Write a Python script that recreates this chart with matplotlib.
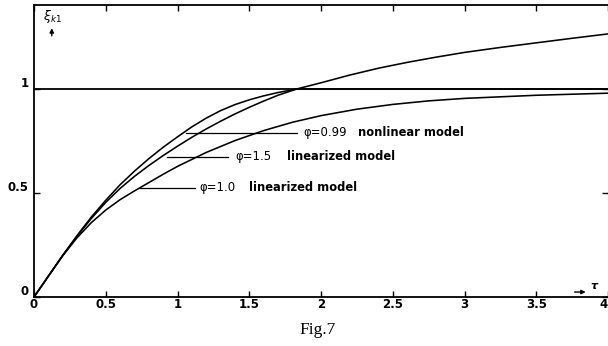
import matplotlib
matplotlib.use("Agg")
import matplotlib.pyplot as plt
import matplotlib.transforms as mtransforms

# ---- data ----
tau_nl = [0, 0.1, 0.2, 0.3, 0.4, 0.5, 0.6, 0.7, 0.8, 0.9, 1.0, 1.1, 1.2, 1.3, 1.4, 1.5,
          1.6, 1.7, 1.83, 2.0, 2.2, 2.4, 2.6, 2.8, 3.0, 3.25, 3.5, 3.75, 4.0]
xi_nl = [0, 0.1, 0.2, 0.295, 0.385, 0.465, 0.54, 0.605, 0.665, 0.72, 0.77, 0.818, 0.86,
         0.896, 0.925, 0.948, 0.967, 0.983, 1.0, 1.03, 1.067, 1.1, 1.128, 1.153, 1.176,
         1.2, 1.222, 1.244, 1.265]

tau_15 = [0, 0.1, 0.2, 0.3, 0.4, 0.5, 0.6, 0.7, 0.8, 0.9, 1.0, 1.1, 1.2, 1.3, 1.4, 1.5,
          1.6, 1.7, 1.83, 4.0]
xi_15 = [0, 0.1, 0.2, 0.293, 0.378, 0.455, 0.522, 0.58, 0.632, 0.68, 0.725, 0.768, 0.808,
         0.845, 0.88, 0.912, 0.942, 0.97, 1.0, 1.0]

tau_10 = [0, 0.1, 0.2, 0.3, 0.4, 0.5, 0.6, 0.7, 0.8, 0.9, 1.0, 1.2, 1.4, 1.6, 1.8, 2.0,
          2.25, 2.5, 2.75, 3.0, 3.5, 4.0]
xi_10 = [0, 0.1, 0.198, 0.285, 0.358, 0.418, 0.468, 0.51, 0.55, 0.59, 0.628, 0.695, 0.752,
         0.8, 0.84, 0.872, 0.903, 0.926, 0.943, 0.955, 0.97, 0.98]

ref_level = 1.0

x_ticks = [0, 0.5, 1, 1.5, 2, 2.5, 3, 3.5, 4]
x_tick_labels = ["0", "0.5", "1", "1.5", "2", "2.5", "3", "3.5", "4"]
y_ticks = [0, 0.5, 1]
y_tick_labels = ["0", "0.5", "1"]

label_phi = ["φ=0.99", "φ=1.5", "φ=1.0"]
label_model = ["nonlinear model", "linearized model", "linearized model"]
leader_x0 = [1.06, 0.93, 0.74]
leader_x1 = [1.83, 1.35, 1.12]
leader_y = [0.79, 0.675, 0.525]
label_x = [1.88, 1.40, 1.15]
model_x = [2.26, 1.76, 1.50]

fig = plt.figure(figsize=(6.08, 3.46), dpi=100)
ax = fig.add_axes([34/608, 49/346, 574/608, 292/346])
ax.set_xlim(0, 4)
ax.set_ylim(0, 1.404)

lw = 1.15
ax.plot(tau_nl, xi_nl, color="black", lw=lw)
ax.plot(tau_15, xi_15, color="black", lw=lw)
ax.plot(tau_10, xi_10, color="black", lw=lw)
ax.plot([0, 4], [ref_level, ref_level], color="black", lw=1.3)

for x0, x1, y in zip(leader_x0, leader_x1, leader_y):
    ax.plot([x0, x1], [y, y], color="black", lw=0.9)
for p, m, tx, mx, y in zip(label_phi, label_model, label_x, model_x, leader_y):
    ax.text(tx, y, p, fontsize=8.5, va="center", ha="left", family="DejaVu Sans")
    ax.text(mx, y, m, fontsize=8.3, fontweight="bold", va="center", ha="left",
            family="DejaVu Sans")

for s in ax.spines.values():
    s.set_linewidth(1.3)
ax.spines["right"].set_visible(False)

ax.set_xticks(x_ticks)
ax.set_xticklabels(x_tick_labels, fontsize=8.5, fontweight="bold")
ax.set_yticks(y_ticks)
ax.set_yticklabels(y_tick_labels, fontsize=8.5, fontweight="bold")
ax.tick_params(axis="x", direction="in", length=4, width=1, top=True, pad=1)
ax.tick_params(axis="y", direction="in", length=4, width=1, right=True, pad=4)
ax.get_xticklabels()[-1].set_horizontalalignment("right")

offset = mtransforms.ScaledTranslation(0, 7/100, fig.dpi_scale_trans)
for lab in ax.get_yticklabels():
    lab.set_transform(lab.get_transform() + offset)

# axis labels
ax.text(0.016, 0.96, r"$\xi_{k1}$", transform=ax.transAxes, fontsize=9,
        fontweight="bold", ha="left", va="center")
ax.annotate("", xy=(0.031, 0.93), xytext=(0.031, 0.885), xycoords="axes fraction",
            arrowprops=dict(arrowstyle="-|>", color="black", lw=1, mutation_scale=6))
ax.annotate("", xy=(0.966, 0.017), xytext=(0.937, 0.017), xycoords="axes fraction",
            arrowprops=dict(arrowstyle="-|>", color="black", lw=1, mutation_scale=6))
ax.text(0.969, 0.022, "τ", transform=ax.transAxes, fontsize=8, fontweight="bold",
        ha="left", va="bottom", style="italic")

fig.text(318/608, 1 - 330/346, "Fig.7", family="Liberation Serif", fontsize=12.5,
         ha="center", va="center")

fig.savefig("out.png", dpi=100)
